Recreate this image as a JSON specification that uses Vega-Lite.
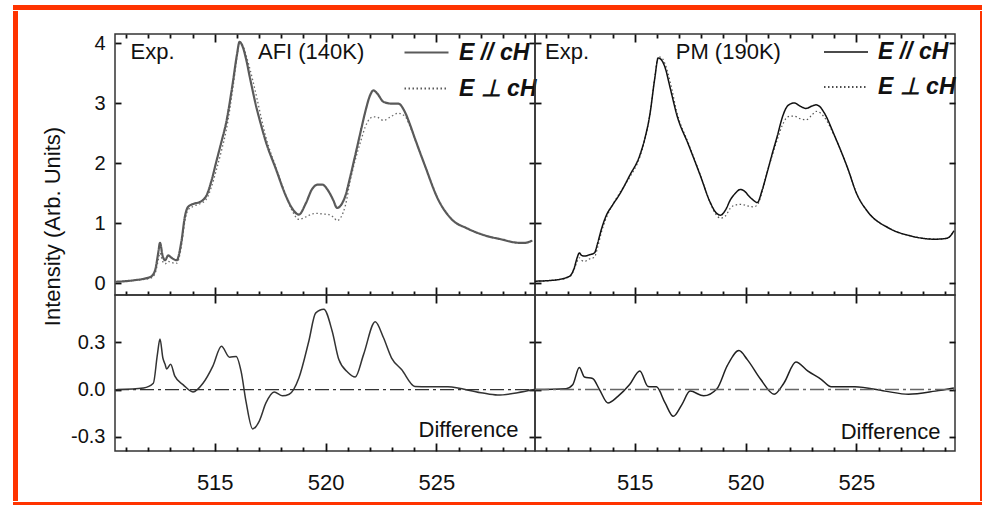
{
  "$schema": "https://vega.github.io/schema/vega-lite/v6.json",
  "background": "white",
  "padding": {"left": 12, "top": 4, "right": 0, "bottom": 0},
  "config": {
    "view": {"stroke": "#333", "strokeWidth": 1.5},
    "axis": {"domain": false, "grid": false, "ticks": true, "zindex": 2, "labelFont": "Liberation Sans", "titleFont": "Liberation Sans", "labelColor": "#111", "titleColor": "#111", "tickColor": "#111", "tickWidth": 1.8, "titleFontWeight": "normal"},
    "text": {"font": "Liberation Sans", "fontSize": 22, "color": "#111"},
    "legend": {"labelFont": "Liberation Sans"}
  },
  "datasets": {
    "afiPar": [
      {"e":510.5,"i":0.02},{"e":511.34,"i":0.045},{"e":512.09,"i":0.1},{"e":512.3,"i":0.2},{"e":512.45,"i":0.5},{"e":512.53,"i":0.67},{"e":512.65,"i":0.45},{"e":512.76,"i":0.38},{"e":512.9,"i":0.46},{"e":513.05,"i":0.42},{"e":513.28,"i":0.38},{"e":513.5,"i":0.7},{"e":513.65,"i":1.1},{"e":513.8,"i":1.27},{"e":514.05,"i":1.32},{"e":514.33,"i":1.35},{"e":514.63,"i":1.46},{"e":514.85,"i":1.7},{"e":515.07,"i":2.02},{"e":515.3,"i":2.35},{"e":515.52,"i":2.68},{"e":515.82,"i":3.35},{"e":516.0,"i":3.8},{"e":516.12,"i":4.02},{"e":516.25,"i":3.95},{"e":516.41,"i":3.74},{"e":516.6,"i":3.4},{"e":516.86,"i":2.96},{"e":517.1,"i":2.62},{"e":517.31,"i":2.35},{"e":517.76,"i":1.9},{"e":518.2,"i":1.46},{"e":518.5,"i":1.24},{"e":518.8,"i":1.14},{"e":519.1,"i":1.32},{"e":519.4,"i":1.57},{"e":519.65,"i":1.64},{"e":519.85,"i":1.64},{"e":520.15,"i":1.52},{"e":520.35,"i":1.38},{"e":520.52,"i":1.25},{"e":520.7,"i":1.3},{"e":520.9,"i":1.46},{"e":521.1,"i":1.75},{"e":521.34,"i":2.13},{"e":521.6,"i":2.55},{"e":521.79,"i":2.85},{"e":522.0,"i":3.12},{"e":522.16,"i":3.21},{"e":522.35,"i":3.15},{"e":522.61,"i":3.02},{"e":522.98,"i":2.99},{"e":523.28,"i":2.99},{"e":523.58,"i":2.85},{"e":523.8,"i":2.65},{"e":524.03,"i":2.41},{"e":524.48,"i":1.96},{"e":525.07,"i":1.4},{"e":525.67,"i":1.07},{"e":526.42,"i":0.905},{"e":527.17,"i":0.795},{"e":527.9,"i":0.73},{"e":528.73,"i":0.67},{"e":529.0,"i":0.67},{"e":529.33,"i":0.71}
    ],
    "afiPerp": [
      {"e":510.5,"i":0.02},{"e":511.34,"i":0.04},{"e":512.09,"i":0.08},{"e":512.3,"i":0.15},{"e":512.45,"i":0.38},{"e":512.53,"i":0.5},{"e":512.65,"i":0.36},{"e":512.76,"i":0.32},{"e":512.9,"i":0.36},{"e":513.05,"i":0.34},{"e":513.28,"i":0.33},{"e":513.5,"i":0.62},{"e":513.65,"i":1.02},{"e":513.8,"i":1.22},{"e":514.05,"i":1.28},{"e":514.33,"i":1.32},{"e":514.63,"i":1.4},{"e":514.85,"i":1.6},{"e":515.07,"i":1.88},{"e":515.3,"i":2.2},{"e":515.52,"i":2.55},{"e":515.82,"i":3.25},{"e":516.0,"i":3.75},{"e":516.12,"i":4.0},{"e":516.25,"i":3.97},{"e":516.41,"i":3.8},{"e":516.6,"i":3.55},{"e":516.86,"i":3.15},{"e":517.1,"i":2.75},{"e":517.31,"i":2.43},{"e":517.76,"i":1.93},{"e":518.2,"i":1.47},{"e":518.5,"i":1.2},{"e":518.8,"i":1.06},{"e":519.1,"i":1.1},{"e":519.4,"i":1.15},{"e":519.65,"i":1.16},{"e":519.85,"i":1.15},{"e":520.15,"i":1.14},{"e":520.35,"i":1.1},{"e":520.52,"i":1.04},{"e":520.7,"i":1.1},{"e":520.9,"i":1.3},{"e":521.1,"i":1.68},{"e":521.34,"i":2.05},{"e":521.6,"i":2.38},{"e":521.79,"i":2.6},{"e":522.0,"i":2.74},{"e":522.16,"i":2.77},{"e":522.35,"i":2.76},{"e":522.61,"i":2.71},{"e":522.98,"i":2.78},{"e":523.28,"i":2.83},{"e":523.58,"i":2.78},{"e":523.8,"i":2.62},{"e":524.03,"i":2.4},{"e":524.48,"i":1.96},{"e":525.07,"i":1.4},{"e":525.67,"i":1.07},{"e":526.42,"i":0.905},{"e":527.17,"i":0.795},{"e":527.9,"i":0.73},{"e":528.73,"i":0.67},{"e":529.0,"i":0.67},{"e":529.33,"i":0.71}
    ],
    "pmPar": [
      {"e":510.5,"i":0.03},{"e":511.29,"i":0.045},{"e":512.05,"i":0.11},{"e":512.27,"i":0.25},{"e":512.4,"i":0.42},{"e":512.5,"i":0.5},{"e":512.6,"i":0.46},{"e":512.73,"i":0.45},{"e":512.95,"i":0.47},{"e":513.18,"i":0.5},{"e":513.33,"i":0.67},{"e":513.5,"i":0.9},{"e":513.71,"i":1.12},{"e":514.0,"i":1.3},{"e":514.32,"i":1.48},{"e":514.77,"i":1.79},{"e":515.23,"i":2.13},{"e":515.45,"i":2.4},{"e":515.68,"i":2.8},{"e":515.9,"i":3.4},{"e":516.06,"i":3.75},{"e":516.2,"i":3.72},{"e":516.37,"i":3.59},{"e":516.6,"i":3.25},{"e":516.9,"i":2.8},{"e":517.43,"i":2.3},{"e":517.96,"i":1.79},{"e":518.41,"i":1.34},{"e":518.65,"i":1.18},{"e":518.87,"i":1.13},{"e":519.1,"i":1.22},{"e":519.32,"i":1.39},{"e":519.55,"i":1.5},{"e":519.77,"i":1.56},{"e":519.95,"i":1.53},{"e":520.15,"i":1.45},{"e":520.35,"i":1.38},{"e":520.53,"i":1.34},{"e":520.75,"i":1.55},{"e":520.98,"i":1.85},{"e":521.2,"i":2.15},{"e":521.44,"i":2.46},{"e":521.65,"i":2.75},{"e":521.82,"i":2.91},{"e":522.0,"i":2.98},{"e":522.2,"i":3.0},{"e":522.45,"i":2.95},{"e":522.73,"i":2.91},{"e":523.0,"i":2.95},{"e":523.18,"i":2.97},{"e":523.35,"i":2.94},{"e":523.56,"i":2.83},{"e":524.01,"i":2.46},{"e":524.62,"i":1.9},{"e":525.0,"i":1.5},{"e":525.53,"i":1.18},{"e":526.44,"i":0.92},{"e":527.5,"i":0.78},{"e":528.56,"i":0.73},{"e":529.0,"i":0.74},{"e":529.17,"i":0.76},{"e":529.4,"i":0.87}
    ],
    "pmPerp": [
      {"e":510.5,"i":0.03},{"e":511.29,"i":0.045},{"e":512.05,"i":0.1},{"e":512.27,"i":0.23},{"e":512.4,"i":0.36},{"e":512.5,"i":0.42},{"e":512.6,"i":0.38},{"e":512.73,"i":0.36},{"e":512.95,"i":0.4},{"e":513.18,"i":0.43},{"e":513.33,"i":0.6},{"e":513.5,"i":0.85},{"e":513.71,"i":1.08},{"e":514.0,"i":1.3},{"e":514.32,"i":1.5},{"e":514.77,"i":1.76},{"e":515.23,"i":2.1},{"e":515.45,"i":2.38},{"e":515.68,"i":2.8},{"e":515.9,"i":3.42},{"e":516.06,"i":3.77},{"e":516.2,"i":3.76},{"e":516.37,"i":3.65},{"e":516.6,"i":3.35},{"e":516.9,"i":2.85},{"e":517.43,"i":2.32},{"e":517.96,"i":1.8},{"e":518.41,"i":1.33},{"e":518.65,"i":1.15},{"e":518.87,"i":1.08},{"e":519.1,"i":1.12},{"e":519.32,"i":1.25},{"e":519.55,"i":1.3},{"e":519.77,"i":1.31},{"e":519.95,"i":1.3},{"e":520.15,"i":1.28},{"e":520.35,"i":1.27},{"e":520.53,"i":1.3},{"e":520.75,"i":1.52},{"e":520.98,"i":1.85},{"e":521.2,"i":2.12},{"e":521.44,"i":2.4},{"e":521.65,"i":2.62},{"e":521.82,"i":2.74},{"e":522.0,"i":2.78},{"e":522.2,"i":2.78},{"e":522.45,"i":2.74},{"e":522.73,"i":2.72},{"e":523.0,"i":2.8},{"e":523.18,"i":2.86},{"e":523.35,"i":2.84},{"e":523.56,"i":2.76},{"e":524.01,"i":2.45},{"e":524.62,"i":1.9},{"e":525.0,"i":1.5},{"e":525.53,"i":1.18},{"e":526.44,"i":0.92},{"e":527.5,"i":0.78},{"e":528.56,"i":0.73},{"e":529.0,"i":0.74},{"e":529.17,"i":0.76},{"e":529.4,"i":0.87}
    ],
    "afiDiff": [
      {"e":510.6,"d":0},{"e":511.79,"d":0.01},{"e":512.23,"d":0.04},{"e":512.41,"d":0.22},{"e":512.53,"d":0.32},{"e":512.66,"d":0.2},{"e":512.76,"d":0.16},{"e":512.83,"d":0.13},{"e":513.01,"d":0.16},{"e":513.2,"d":0.085},{"e":513.58,"d":0.03},{"e":514.02,"d":-0.015},{"e":514.47,"d":0.04},{"e":514.92,"d":0.15},{"e":515.3,"d":0.275},{"e":515.67,"d":0.205},{"e":515.97,"d":0.21},{"e":516.19,"d":0.115},{"e":516.41,"d":-0.075},{"e":516.71,"d":-0.25},{"e":517.01,"d":-0.2},{"e":517.31,"d":-0.085},{"e":517.68,"d":-0.015},{"e":518.06,"d":-0.04},{"e":518.36,"d":-0.03},{"e":518.8,"d":0.075},{"e":519.25,"d":0.31},{"e":519.55,"d":0.485},{"e":519.92,"d":0.51},{"e":520.3,"d":0.37},{"e":520.6,"d":0.19},{"e":521.0,"d":0.11},{"e":521.34,"d":0.08},{"e":521.71,"d":0.22},{"e":522.24,"d":0.43},{"e":522.61,"d":0.33},{"e":522.98,"d":0.2},{"e":523.43,"d":0.127},{"e":524.03,"d":0.02},{"e":525.52,"d":0.017},{"e":527.01,"d":-0.02},{"e":527.76,"d":-0.035},{"e":528.66,"d":-0.02},{"e":529.4,"d":0}
    ],
    "pmDiff": [
      {"e":510.5,"d":0},{"e":511.9,"d":0.005},{"e":512.2,"d":0.03},{"e":512.5,"d":0.14},{"e":512.73,"d":0.08},{"e":513.1,"d":0.07},{"e":513.41,"d":0},{"e":513.79,"d":-0.085},{"e":514.24,"d":-0.043},{"e":514.77,"d":0.032},{"e":515.23,"d":0.118},{"e":515.6,"d":0.02},{"e":515.98,"d":0.017},{"e":516.37,"d":-0.085},{"e":516.74,"d":-0.17},{"e":517.12,"d":-0.097},{"e":517.5,"d":-0.01},{"e":518.11,"d":-0.04},{"e":518.71,"d":0.005},{"e":519.17,"d":0.15},{"e":519.7,"d":0.247},{"e":520.08,"d":0.19},{"e":520.68,"d":0.065},{"e":521.29,"d":-0.03},{"e":521.74,"d":0.043},{"e":522.27,"d":0.175},{"e":522.8,"d":0.118},{"e":523.41,"d":0.065},{"e":523.87,"d":0.017},{"e":524.93,"d":0.017},{"e":526.29,"d":-0.01},{"e":527.35,"d":-0.03},{"e":528.56,"d":-0.01},{"e":529.4,"d":0.01}
    ]
  },
  "vconcat": [
    {"width": 969, "height": 5, "view": {"fill": "#ff3300", "stroke": null}, "data": {"values": [{}]}, "mark": {"type": "point", "opacity": 0}},
    {
      "hconcat": [
        {"width": 5, "height": 490, "view": {"fill": "#ff3300", "stroke": null}, "data": {"values": [{}]}, "mark": {"type": "point", "opacity": 0}},
        {
          "concat": [
            {"width": 420, "height": 23, "view": {"stroke": null}, "data": {"values": [{}]}, "mark": {"type": "point", "opacity": 0}},
            {"width": 420, "height": 23, "view": {"stroke": null}, "data": {"values": [{}]}, "mark": {"type": "point", "opacity": 0}},
            {
              "width": 420, "height": 261,
              "layer": [
                {
                  "data": {"name": "afiPerp"},
                  "mark": {"type": "line", "color": "#6a6a6a", "strokeWidth": 1.3, "interpolate": "monotone"},
                  "encoding": {
                    "x": {"field": "e", "type": "quantitative", "scale": {"domain": [510.5, 529.45], "nice": false, "zero": false},
                      "axis": {"orient": "top", "tickSize": -8, "values": [515, 520, 525], "labels": false, "title": null}},
                    "y": {"field": "i", "type": "quantitative", "scale": {"domain": [-0.2, 4.15], "nice": false, "zero": false},
                      "axis": {"orient": "right", "tickSize": -6, "values": [0,1,2,3,4], "labels": false, "title": null}},
                    "strokeDash": {"datum": "E ⊥ cH", "scale": {"domain": ["E // cH", "E ⊥ cH"], "range": [[1,0],[1.5,2.5]]},
                      "legend": {"title": null, "orient": "none", "legendX": 288, "legendY": -5, "padding": 0, "labelFontSize": 23, "labelFontStyle": "italic", "labelFontWeight": "bold", "labelColor": "#111", "symbolType": "stroke", "symbolSize": 1936, "symbolStrokeWidth": 2.2, "symbolStrokeColor": "#5a5a5a", "rowPadding": -22, "labelOffset": 9}}
                  }
                },
                {
                  "data": {"name": "afiPar"},
                  "mark": {"type": "line", "color": "#5a5a5a", "strokeWidth": 2.2, "interpolate": "monotone"},
                  "encoding": {
                    "x": {"field": "e", "type": "quantitative",
                      "axis": {"orient": "bottom", "tickSize": -8, "values": [515, 520, 525], "labels": false, "title": null}},
                    "y": {"field": "i", "type": "quantitative",
                      "axis": {"orient": "left", "tickSize": -6, "values": [0,1,2,3,4], "labelPadding": 16, "labelFontSize": 20, "title": "Intensity (Arb. Units)", "titleFontSize": 22, "titleX": -51, "titleY": 192}},
                    "strokeDash": {"datum": "E // cH"}
                  }
                },
                {
                  "data": {"values": [{"e": 511.2, "i": 3.85, "t": "Exp."}]},
                  "mark": {"type": "text", "align": "left", "baseline": "middle"},
                  "encoding": {
                    "x": {"field": "e", "type": "quantitative",
                      "axis": {"orient": "bottom", "tickSize": -4, "values": [511,512,513,514,516,517,518,519,521,522,523,524,526,527,528,529], "labels": false, "title": null}},
                    "y": {"field": "i", "type": "quantitative", "axis": null},
                    "text": {"field": "t"}
                  }
                },
                {
                  "data": {"values": [{"e": 516.95, "i": 3.85, "t": "AFI (140K)"}]},
                  "mark": {"type": "text", "align": "left", "baseline": "middle"},
                  "encoding": {
                    "x": {"field": "e", "type": "quantitative",
                      "axis": {"orient": "top", "tickSize": -4, "values": [511,512,513,514,516,517,518,519,521,522,523,524,526,527,528,529], "labels": false, "title": null}},
                    "y": {"field": "i", "type": "quantitative", "axis": null},
                    "text": {"field": "t"}
                  }
                }
              ],
              "resolve": {"axis": {"x": "independent", "y": "independent"}}
            },
            {
              "width": 420, "height": 261,
              "layer": [
                {
                  "data": {"name": "pmPerp"},
                  "mark": {"type": "line", "color": "#555", "strokeWidth": 1.2, "interpolate": "monotone"},
                  "encoding": {
                    "x": {"field": "e", "type": "quantitative", "scale": {"domain": [510.5, 529.45], "nice": false, "zero": false},
                      "axis": {"orient": "top", "tickSize": -8, "values": [515, 520, 525], "labels": false, "title": null}},
                    "y": {"field": "i", "type": "quantitative", "scale": {"domain": [-0.2, 4.15], "nice": false, "zero": false},
                      "axis": {"orient": "right", "tickSize": -6, "values": [0,1,2,3,4], "labels": false, "title": null}},
                    "strokeDash": {"datum": "E ⊥ cH", "scale": {"domain": ["E // cH", "E ⊥ cH"], "range": [[1,0],[1.5,2.5]]},
                      "legend": {"title": null, "orient": "none", "legendX": 288, "legendY": -5, "padding": 0, "labelFontSize": 23, "labelFontStyle": "italic", "labelFontWeight": "bold", "labelColor": "#111", "symbolType": "stroke", "symbolSize": 1936, "symbolStrokeWidth": 1.5, "symbolStrokeColor": "#111", "rowPadding": -22, "labelOffset": 9}}
                  }
                },
                {
                  "data": {"name": "pmPar"},
                  "mark": {"type": "line", "color": "#111", "strokeWidth": 1.5, "interpolate": "monotone"},
                  "encoding": {
                    "x": {"field": "e", "type": "quantitative",
                      "axis": {"orient": "bottom", "tickSize": -8, "values": [515, 520, 525], "labels": false, "title": null}},
                    "y": {"field": "i", "type": "quantitative",
                      "axis": {"orient": "left", "tickSize": -6, "values": [0,1,2,3,4], "labels": false, "title": null}},
                    "strokeDash": {"datum": "E // cH"}
                  }
                },
                {
                  "data": {"values": [{"e": 510.95, "i": 3.85, "t": "Exp."}]},
                  "mark": {"type": "text", "align": "left", "baseline": "middle"},
                  "encoding": {
                    "x": {"field": "e", "type": "quantitative",
                      "axis": {"orient": "bottom", "tickSize": -4, "values": [511,512,513,514,516,517,518,519,521,522,523,524,526,527,528,529], "labels": false, "title": null}},
                    "y": {"field": "i", "type": "quantitative", "axis": null},
                    "text": {"field": "t"}
                  }
                },
                {
                  "data": {"values": [{"e": 516.85, "i": 3.85, "t": "PM (190K)"}]},
                  "mark": {"type": "text", "align": "left", "baseline": "middle"},
                  "encoding": {
                    "x": {"field": "e", "type": "quantitative",
                      "axis": {"orient": "top", "tickSize": -4, "values": [511,512,513,514,516,517,518,519,521,522,523,524,526,527,528,529], "labels": false, "title": null}},
                    "y": {"field": "i", "type": "quantitative", "axis": null},
                    "text": {"field": "t"}
                  }
                }
              ],
              "resolve": {"axis": {"x": "independent", "y": "independent"}}
            },
            {
              "width": 420, "height": 156,
              "layer": [
                {
                  "data": {"name": "afiDiff"},
                  "mark": {"type": "line", "color": "#333", "strokeWidth": 1.5, "interpolate": "monotone"},
                  "encoding": {
                    "x": {"field": "e", "type": "quantitative", "scale": {"domain": [510.5, 529.45], "nice": false, "zero": false},
                      "axis": {"orient": "bottom", "tickSize": -8, "values": [515, 520, 525], "labelOverlap": false, "labelFlush": false, "labelPadding": 29, "labelFontSize": 22, "title": null}},
                    "y": {"field": "d", "type": "quantitative", "scale": {"domain": [-0.39, 0.6], "nice": false, "zero": false},
                      "axis": {"orient": "left", "tickSize": -6, "values": [-0.3, 0, 0.3], "format": ".1f", "labelExpr": "replace(datum.label, '−', '-')", "labelPadding": 16, "labelFontSize": 20, "title": null}}
                  }
                },
                {
                  "data": {"values": [{}]},
                  "mark": {"type": "rule", "color": "#333", "strokeWidth": 1.3, "strokeDash": [14, 4, 3, 4]},
                  "encoding": {
                    "x": {"datum": 510.5, "type": "quantitative",
                      "axis": {"orient": "bottom", "tickSize": -4, "values": [511,512,513,514,516,517,518,519,521,522,523,524,526,527,528,529], "labels": false, "title": null}},
                    "x2": {"datum": 529.45},
                    "y": {"datum": 0, "type": "quantitative", "axis": null}
                  }
                },
                {
                  "data": {"values": [{"e": 528.7, "d": -0.255, "t": "Difference"}]},
                  "mark": {"type": "text", "align": "right", "baseline": "middle"},
                  "encoding": {
                    "x": {"field": "e", "type": "quantitative",
                      "axis": {"orient": "top", "tickSize": -8, "values": [515, 520, 525], "labels": false, "title": null}},
                    "y": {"field": "d", "type": "quantitative",
                      "axis": {"orient": "right", "tickSize": -6, "values": [-0.3, 0, 0.3], "labels": false, "title": null}},
                    "text": {"field": "t"}
                  }
                }
              ],
              "resolve": {"axis": {"x": "independent", "y": "independent"}}
            },
            {
              "width": 420, "height": 156,
              "layer": [
                {
                  "data": {"name": "pmDiff"},
                  "mark": {"type": "line", "color": "#222", "strokeWidth": 1.5, "interpolate": "monotone"},
                  "encoding": {
                    "x": {"field": "e", "type": "quantitative", "scale": {"domain": [510.5, 529.45], "nice": false, "zero": false},
                      "axis": {"orient": "bottom", "tickSize": -8, "values": [515, 520, 525], "labelOverlap": false, "labelFlush": false, "labelPadding": 29, "labelFontSize": 22, "title": null}},
                    "y": {"field": "d", "type": "quantitative", "scale": {"domain": [-0.39, 0.6], "nice": false, "zero": false},
                      "axis": {"orient": "left", "tickSize": -6, "values": [-0.3, 0, 0.3], "labels": false, "title": null}}
                  }
                },
                {
                  "data": {"values": [{}]},
                  "mark": {"type": "rule", "color": "#666", "strokeWidth": 1.5, "strokeDash": [14, 4, 3, 4]},
                  "encoding": {
                    "x": {"datum": 510.5, "type": "quantitative",
                      "axis": {"orient": "bottom", "tickSize": -4, "values": [511,512,513,514,516,517,518,519,521,522,523,524,526,527,528,529], "labels": false, "title": null}},
                    "x2": {"datum": 529.45},
                    "y": {"datum": 0, "type": "quantitative", "axis": null}
                  }
                },
                {
                  "data": {"values": [{"e": 528.8, "d": -0.27, "t": "Difference"}]},
                  "mark": {"type": "text", "align": "right", "baseline": "middle"},
                  "encoding": {
                    "x": {"field": "e", "type": "quantitative",
                      "axis": {"orient": "top", "tickSize": -8, "values": [515, 520, 525], "labels": false, "title": null}},
                    "y": {"field": "d", "type": "quantitative",
                      "axis": {"orient": "right", "tickSize": -6, "values": [-0.3, 0, 0.3], "labels": false, "title": null}},
                    "text": {"field": "t"}
                  }
                }
              ],
              "resolve": {"axis": {"x": "independent", "y": "independent"}}
            }
          ],
          "columns": 2,
          "spacing": 0,
          "bounds": "flush",
          "align": "each",
          "resolve": {"scale": {"x": "independent", "y": "independent", "strokeDash": "independent"}, "legend": {"strokeDash": "independent"}}
        },
        {"width": 5, "height": 490, "view": {"fill": "#ff3300", "stroke": null}, "data": {"values": [{}]}, "mark": {"type": "point", "opacity": 0}}
      ],
      "spacing": 21
    },
    {"width": 969, "height": 5, "view": {"fill": "#ff3300", "stroke": null}, "data": {"values": [{}]}, "mark": {"type": "point", "opacity": 0}}
  ],
  "spacing": 0
}
